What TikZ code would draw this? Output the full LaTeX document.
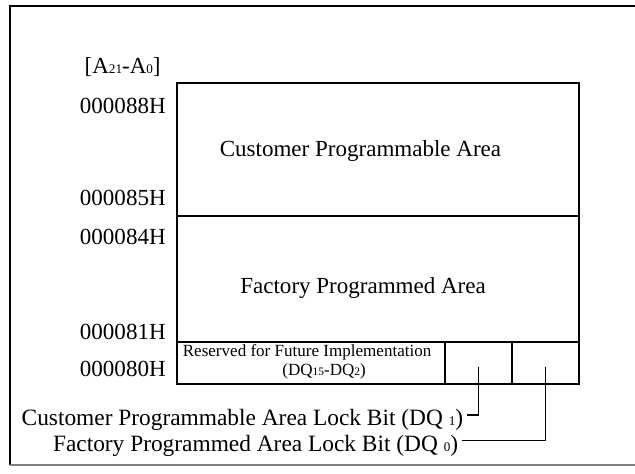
\documentclass[tikz,border=0pt]{standalone}
\usepackage{fontspec}
\setmainfont{Liberation Serif}
\usepackage{tikz}
\usetikzlibrary{positioning, calc}
\newcommand{\smalldig}[1]{{\fontsize{7.5}{8}\selectfont #1}}
\newcommand{\tinydig}[1]{{\fontsize{6.5}{7}\selectfont #1}}

\begin{document}
\begin{tikzpicture}[
  cell/.style={draw, line width=0.8pt, inner sep=0pt, outer sep=0pt},
  addr/.style={anchor=base east, inner sep=0pt, font=\fontsize{13.1}{15}\selectfont},
  areatext/.style={anchor=base west, inner sep=0pt, font=\fontsize{13.1}{15}\selectfont},
  locktext/.style={anchor=base east, inner sep=2pt, font=\fontsize{13.3}{15}\selectfont},
  lead/.style={line width=0.8pt}
]
  \useasboundingbox (0,0) rectangle (12.7,9.48);

  % outer frame
  \draw[line width=1.2pt] (12.8,9.36) -- (0.2,9.36) -- (0.2,0.18);
  \draw[gray, line width=0.6pt] (0.2,0.18) -- (12.8,0.18);

  % memory map
  \node[cell, minimum width=8.04cm, minimum height=2.66cm, anchor=south west] (cust) at (3.54,5.16) {};
  \node[cell, minimum width=8.04cm, minimum height=2.52cm, below=0pt of cust] (fact) {};
  \node[cell, minimum width=5.36cm, minimum height=0.84cm, below right=0pt of fact.south west] (resv) {};
  \node[cell, minimum width=1.34cm, minimum height=0.84cm, right=0pt of resv] (bit1) {};
  \node[cell, minimum width=1.34cm, minimum height=0.84cm, right=0pt of bit1] (bit0) {};

  \node[areatext] (custtext) at (4.39,6.35) {Customer Programmable Area};
  \node[areatext] (facttext) at (4.80,3.61) {Factory Programmed Area};
  \node[anchor=base west, inner sep=0pt, font=\fontsize{9.7}{11}\selectfont] (resvtext) at (3.65,2.35) {Reserved for Future Implementation};
  \node[anchor=base west, inner sep=0pt, font=\fontsize{9.7}{11}\selectfont] (resvbits) at (5.64,1.96) {(DQ\tinydig{15}-DQ\tinydig{2})};

  % addresses
  \node[addr] (range) at (3.22,8.00) {[A\smalldig{21}-A\smalldig{0}]};
  \node[addr] (a88) at (3.32,7.21) {000088H};
  \node[addr] (a85) at (3.32,5.37) {000085H};
  \node[addr] (a84) at (3.32,4.58) {000084H};
  \node[addr] (a81) at (3.32,2.68) {000081H};
  \node[addr] (a80) at (3.32,1.95) {000080H};

  % lock bits
  \node[locktext] (lock1) at (9.34,0.96) {Customer Programmable Area Lock Bit (DQ \smalldig{1})};
  \node[locktext] (lock0) at (9.24,0.45) {Factory Programmed Area Lock Bit (DQ \smalldig{0})};

  \draw[lead] ([yshift=-2pt]bit1.center) |- ([yshift=3pt]lock1.east);
  \draw[lead] ([yshift=-2pt]bit0.center) |- ([yshift=3pt]lock0.east);
\end{tikzpicture}
\end{document}
